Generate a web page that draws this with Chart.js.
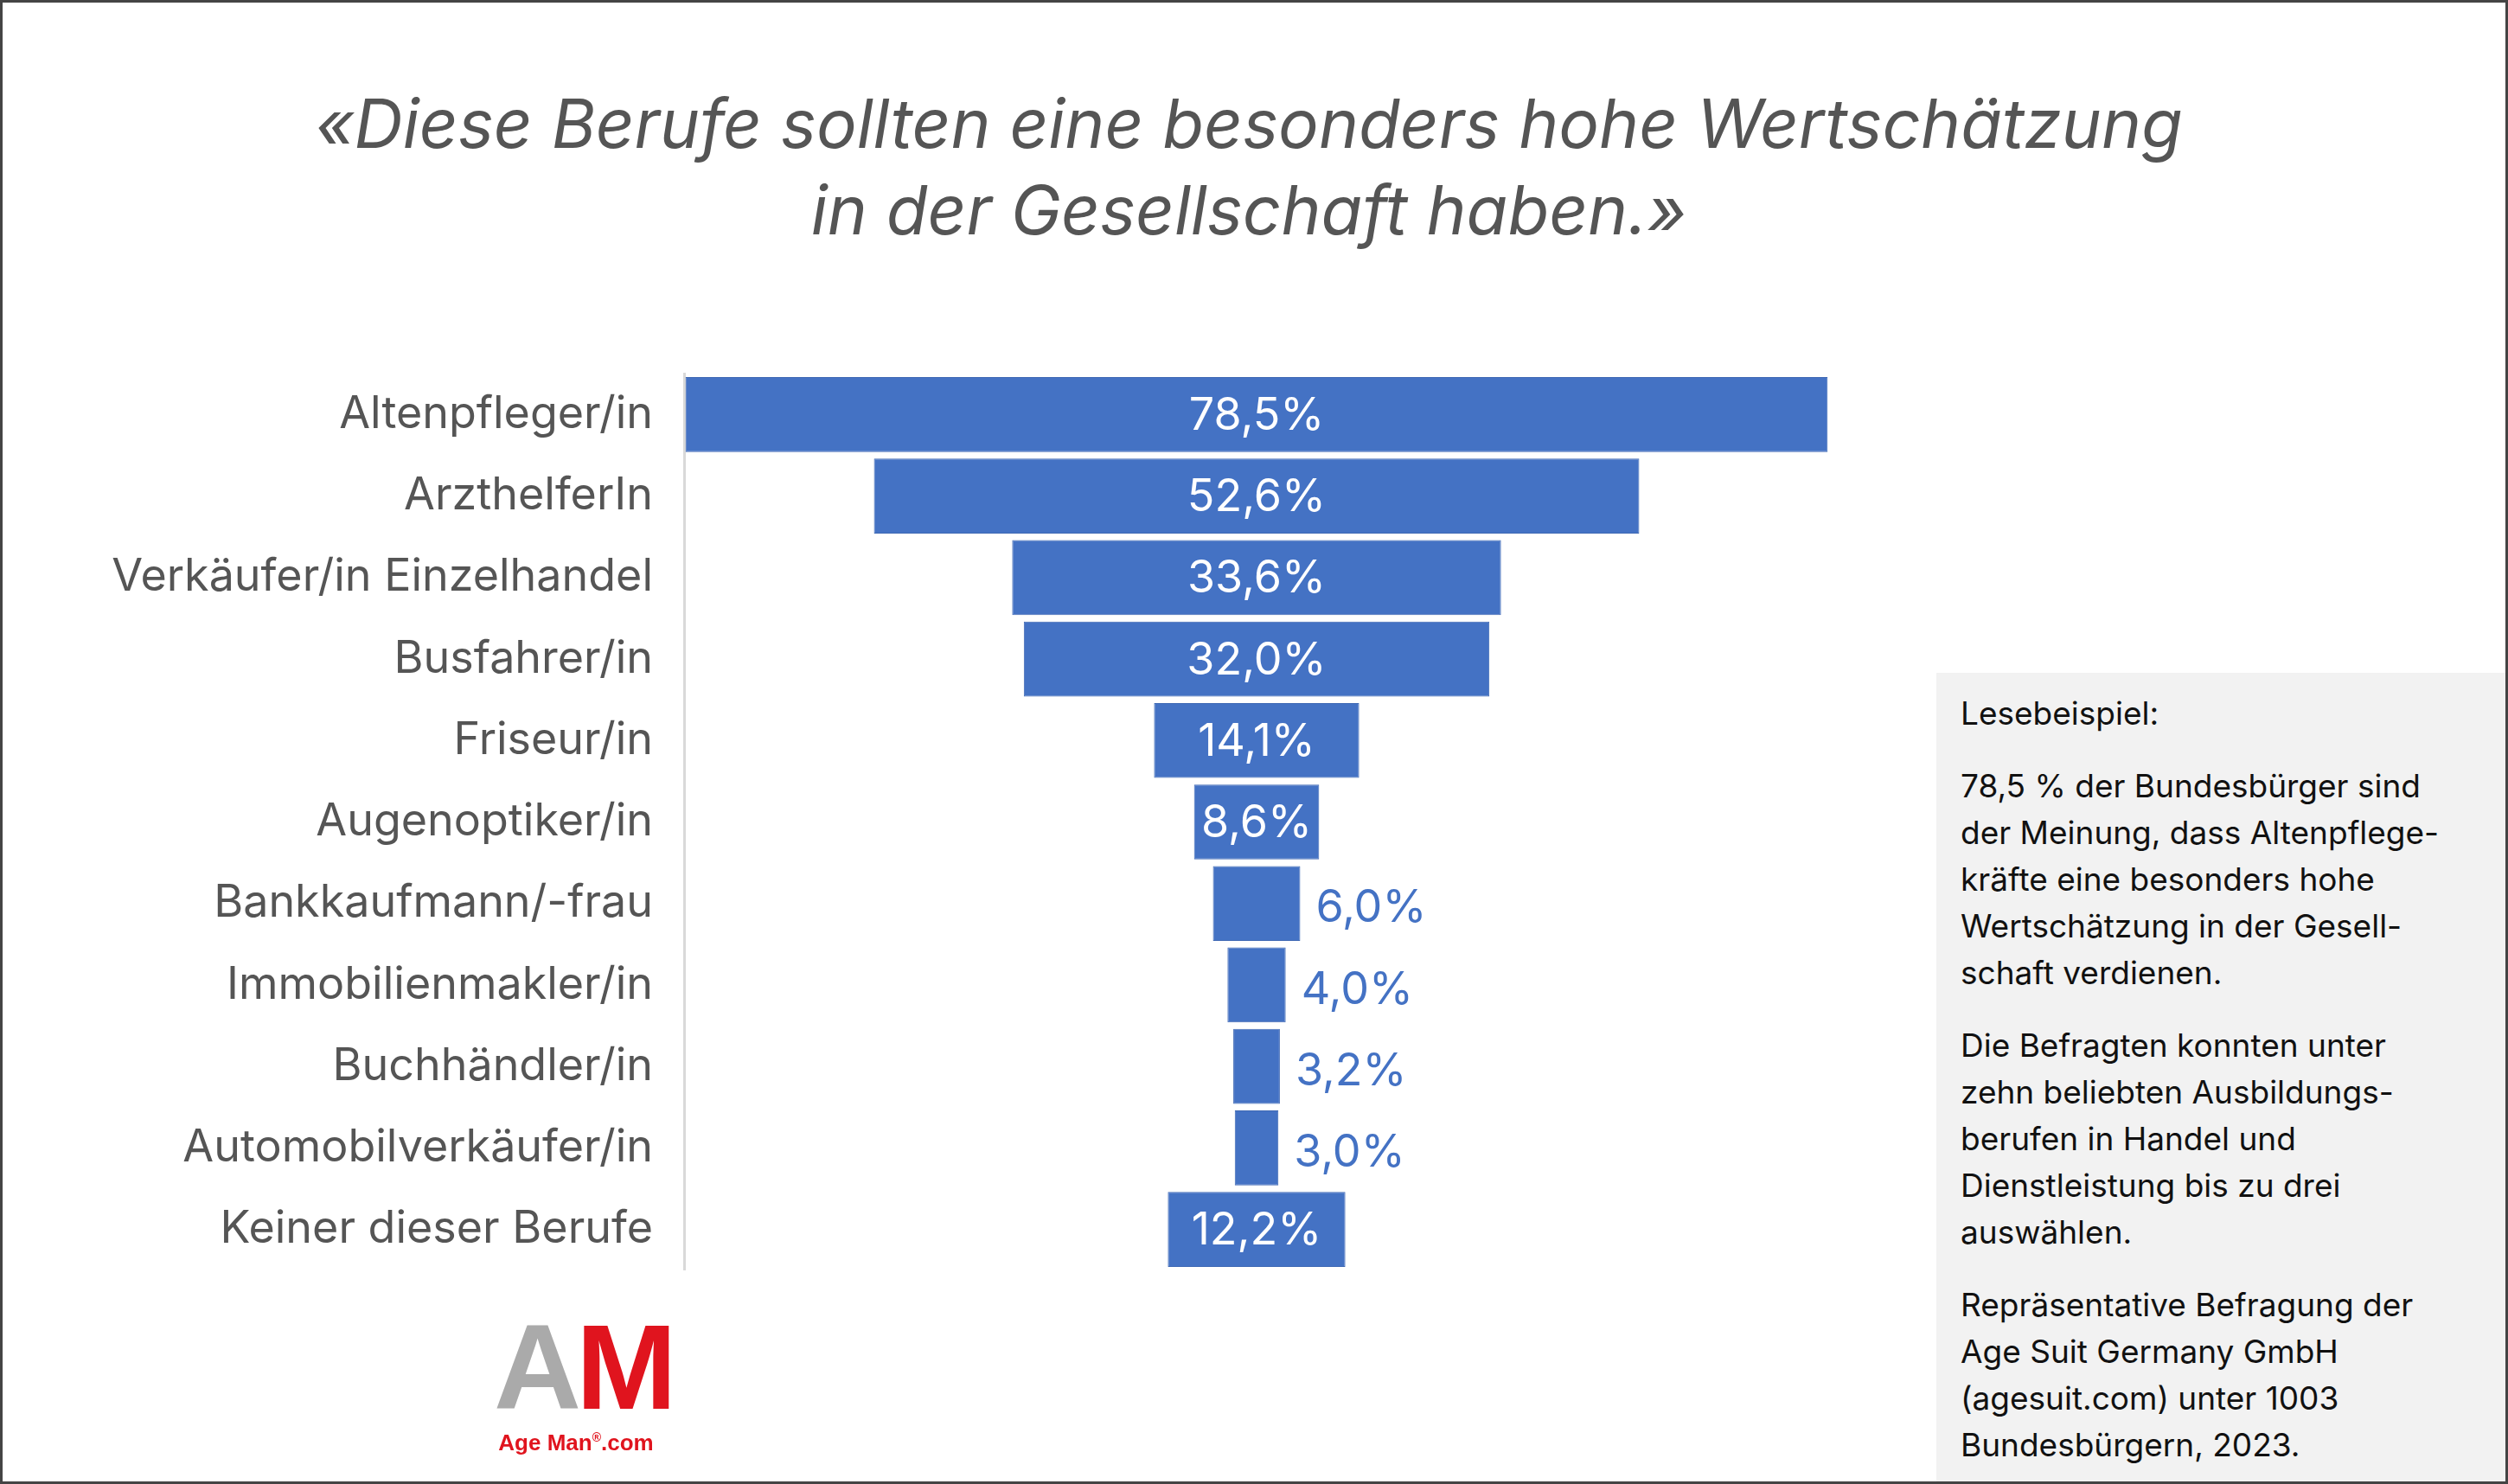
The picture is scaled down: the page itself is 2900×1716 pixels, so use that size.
<!DOCTYPE html>
<html><head><meta charset="utf-8">
<script src="https://cdn.jsdelivr.net/npm/chart.js@4"></script>
<style>
html,body{margin:0;padding:0;background:#fff;}
#wrap{position:relative;width:2900px;height:1716px;box-sizing:border-box;border:3px solid #444;overflow:hidden;font-family:Inter,"Noto Sans",sans-serif;}
#title{position:absolute;left:0;top:90px;width:2882px;text-align:center;font-family:Inter,sans-serif;font-style:italic;font-size:78px;line-height:100px;color:#555;}
#c{position:absolute;left:0;top:370px;}
#box{position:absolute;left:2236px;top:775px;width:670px;height:945px;background:#f2f2f2;padding:6px 28px;box-sizing:border-box;font-size:37px;line-height:54px;color:#111;}
#box p{margin:14px 0 30px 0;}
#logo{position:absolute;left:568px;top:1505px;width:190px;text-align:center;}
#logo .am{font-family:"Liberation Sans",Arial,sans-serif;font-weight:bold;font-size:140px;line-height:145px;letter-spacing:-6px;}
#logo .sub{font-family:"Liberation Sans",Arial,sans-serif;font-weight:bold;font-size:26px;color:#e0141e;}
</style></head><body>
<div id="wrap">
<div id="title">«Diese Berufe sollten eine besonders hohe Wertschätzung<br>in der Gesellschaft haben.»</div>
<canvas id="c" width="2200" height="1155" style="width:2200px;height:1155px"></canvas>
<div id="box">
<p>Lesebeispiel:</p>
<p>78,5 % der Bundesbürger sind<br>der Meinung, dass Altenpflege-<br>kräfte eine besonders hohe<br>Wertschätzung in der Gesell-<br>schaft verdienen.</p>
<p>Die Befragten konnten unter<br>zehn beliebten Ausbildungs-<br>berufen in Handel und<br>Dienstleistung bis zu drei<br>auswählen.</p>
<p>Repräsentative Befragung der<br>Age Suit Germany GmbH<br>(agesuit.com) unter 1003<br>Bundesbürgern, 2023.</p>
</div>
<div id="logo"><div class="am"><span style="color:#aaa">A</span><span style="color:#e0141e">M</span></div><div class="sub">Age Man<sup style="font-size:14px">®</sup>.com</div></div>
</div>
<script>
const categories=["Altenpfleger/in","ArzthelferIn","Verkäufer/in Einzelhandel","Busfahrer/in","Friseur/in","Augenoptiker/in","Bankkaufmann/-frau","Immobilienmakler/in","Buchhändler/in","Automobilverkäufer/in","Keiner dieser Berufe"];
const values=[78.5,52.6,33.6,32.0,14.1,8.6,6.0,4.0,3.2,3.0,12.2];
const labels=values.map(v=>v.toFixed(1).replace('.',',')+'%');
const lbl={id:'lbl',afterDatasetsDraw(ch){const c=ch.ctx;const m=ch.getDatasetMeta(0);c.save();c.font='52px Inter, "Noto Sans", sans-serif';c.textBaseline='middle';
m.data.forEach((b,i)=>{if(values[i]>=8){c.fillStyle='#fff';c.textAlign='center';c.fillText(labels[i],(b.x+b.base)/2,b.y+2);}else{c.fillStyle='#4472c4';c.textAlign='left';c.fillText(labels[i],b.x+18,b.y+6);}});c.restore();}};
new Chart(document.getElementById('c'),{type:'bar',
data:{labels:categories,datasets:[{data:values.map(v=>[-v/2,v/2]),backgroundColor:'#4472c4',borderColor:'#3e68b4',borderWidth:1,borderSkipped:false,barPercentage:0.92,categoryPercentage:1}]},
options:{indexAxis:'y',responsive:false,devicePixelRatio:1,animation:false,layout:{padding:{right:88}},
plugins:{legend:{display:false},tooltip:{enabled:false}},
scales:{x:{display:false,min:-39.35,max:39.35},
y:{afterFit(s){s.width=788;},grid:{display:false},border:{display:true,color:'#d9d9d9',width:3},ticks:{padding:28,color:'#555',font:{size:52,family:'Inter, "Noto Sans", sans-serif'}}}}},
plugins:[lbl]});
</script>
</body></html>
